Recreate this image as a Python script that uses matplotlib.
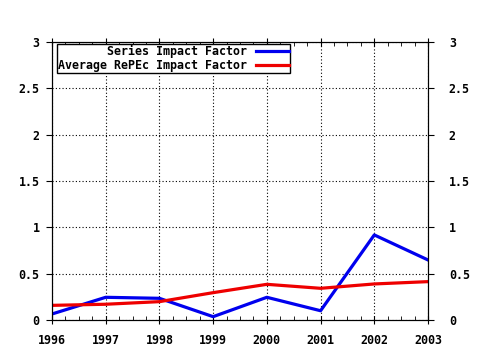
import matplotlib
matplotlib.use("Agg")
import matplotlib.pyplot as plt
from matplotlib.ticker import MultipleLocator

years = [1996, 1997, 1998, 1999, 2000, 2001, 2002, 2003]
series_if = [0.065, 0.245, 0.234, 0.036, 0.245, 0.10, 0.918, 0.648]
average_if = [0.158, 0.17, 0.198, 0.295, 0.385, 0.342, 0.389, 0.414]
y_ticks = [0, 0.5, 1, 1.5, 2, 2.5, 3]
y_labels = ["0", "0.5", "1", "1.5", "2", "2.5", "3"]

plt.rcParams["font.family"] = "DejaVu Sans Mono"
plt.rcParams["font.weight"] = "bold"
plt.rcParams["font.size"] = 8.4

fig = plt.figure(figsize=(4.8, 3.5), dpi=100)
ax = fig.add_axes([52 / 480, 1 - 320 / 350, 376 / 480, 278 / 350])

ax.plot(years, series_if, color="#0000ee", lw=2.3, label="Series Impact Factor")
ax.plot(years, average_if, color="#ee0000", lw=2.3, label="Average RePEc Impact Factor")

ax.set_xlim(1996, 2003)
ax.set_ylim(0, 3)
ax.set_xticks(years)
ax.set_xticklabels([str(y) for y in years])
ax.xaxis.set_minor_locator(MultipleLocator(0.25))
ax.set_yticks(y_ticks)
ax.set_yticklabels(y_labels)

ax.grid(True, which="major", color="black", linestyle=(0, (1, 2)), linewidth=0.8)
ax.tick_params(axis="x", which="major", direction="inout", length=6, top=True, pad=7)
ax.tick_params(axis="x", which="minor", direction="in", length=3, top=True)
ax.tick_params(axis="y", which="major", direction="out", length=4, pad=5)

# right-hand copy of the y axis
ax2 = ax.twinx()
ax2.set_ylim(0, 3)
ax2.set_yticks(y_ticks)
ax2.set_yticklabels(y_labels)
ax2.tick_params(axis="y", direction="out", length=4, pad=11)

leg = ax.legend(loc="upper left", bbox_to_anchor=(5 / 376, 1 - 2 / 278), markerfirst=False,
                frameon=True, fancybox=False, edgecolor="black", framealpha=1,
                borderpad=0.12, labelspacing=0.05, handlelength=2.85, handletextpad=0.7,
                borderaxespad=0)
leg.get_frame().set_linewidth(1.0)
leg._legend_box.align = "right"

fig.savefig("out.png", dpi=100)
